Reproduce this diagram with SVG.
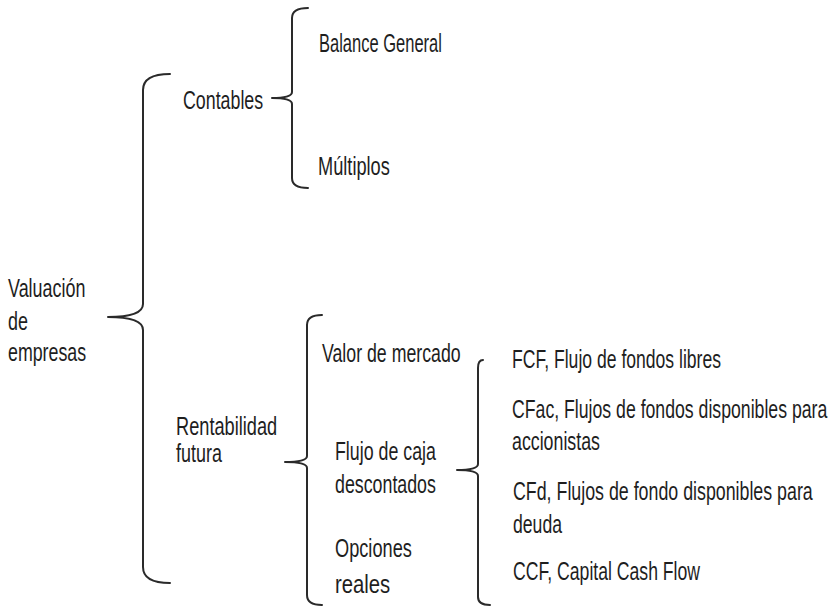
<svg xmlns="http://www.w3.org/2000/svg" width="836" height="609" viewBox="0 0 836 609">
<style>
text{font-family:"Liberation Sans",Arial,sans-serif;font-size:26px;fill:#1e1e1e}
.br{fill:none;stroke:#2a2a2a;stroke-width:2;stroke-linejoin:round;stroke-linecap:round}
</style>
<rect width="836" height="609" fill="#ffffff"/>
<g id="connectors">
<path class="br" d="M170 74 Q143 74 143 90 L143 304 Q143 317 108 317 Q143 317 143 330 L143 567 Q143 583 170 583"/>
<path class="br" d="M308 8 Q292 8 292 18 L292 92 Q292 98 272 98 Q292 98 292 104 L292 178 Q292 188 308 188"/>
<path class="br" d="M322 315 Q307 315 307 325 L307 456 Q307 462 285 462 Q307 462 307 468 L307 595 Q307 605 322 605"/>
<path class="br" d="M483 360 Q478 360 478 368 L478 464 Q478 470 457 470 Q478 470 478 476 L478 597 Q478 605 490 605"/>
</g>
<g id="valuacion"><text transform="matrix(0.69 0 0 1 8 297)">Valuación</text><text transform="matrix(0.69 0 0 1 8 330)">de</text><text transform="matrix(0.685 0 0 1 8 361)">empresas</text></g>
<g id="contables"><text transform="matrix(0.685 0 0 1 183 109)">Contables</text></g>
<g id="balance"><text transform="matrix(0.635 0 0 1 319 52)">Balance General</text></g>
<g id="multiplos"><text transform="matrix(0.7 0 0 1 318 175)">Múltiplos</text></g>
<g id="rentabilidad"><text transform="matrix(0.7 0 0 1 176 435)">Rentabilidad</text><text transform="matrix(0.69 0 0 1 176 462)">futura</text></g>
<g id="valor"><text transform="matrix(0.682 0 0 1 322 362)">Valor de mercado</text></g>
<g id="flujo"><text transform="matrix(0.685 0 0 1 335 460)">Flujo de caja</text><text transform="matrix(0.685 0 0 1 335 493)">descontados</text></g>
<g id="opciones"><text transform="matrix(0.7 0 0 1 335 557)">Opciones</text><text transform="matrix(0.78 0 0 1 335 593)">reales</text></g>
<g id="fcf"><text transform="matrix(0.676 0 0 1 512 368)">FCF, Flujo de fondos libres</text></g>
<g id="cfac"><text transform="matrix(0.68 0 0 1 512 418)">CFac, Flujos de fondos disponibles para</text><text transform="matrix(0.684 0 0 1 512 450)">accionistas</text></g>
<g id="cfd"><text transform="matrix(0.685 0 0 1 513 500)">CFd, Flujos de fondo disponibles para</text><text transform="matrix(0.678 0 0 1 513 533)">deuda</text></g>
<g id="ccf"><text transform="matrix(0.678 0 0 1 513 580)">CCF, Capital Cash Flow</text></g>
</svg>
